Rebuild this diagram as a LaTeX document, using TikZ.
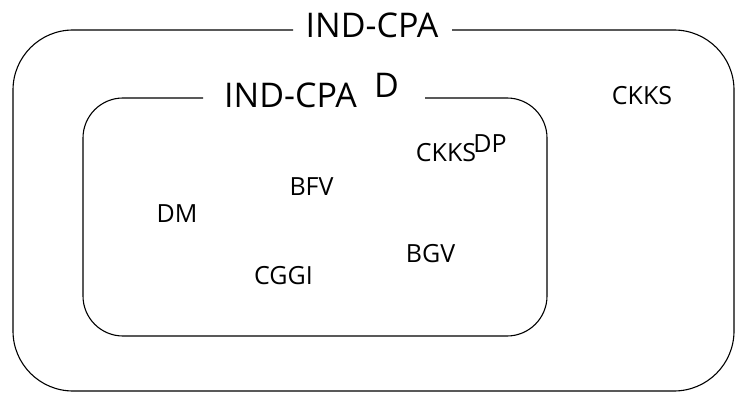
\documentclass[tikz,border=0pt]{standalone}
\usepackage{fontspec}
\setmainfont{Open Sans}
\tikzset{
    setbox/.style={line width=1.1pt, rounded corners=#1},
    scheme/.style={font=\fontsize{25}{30}\selectfont, inner sep=0pt},
    notion/.style={font=\fontsize{34}{40}\selectfont, inner sep=0pt},
}

\begin{document}
\begin{tikzpicture}[x=1pt,y=-1pt]
\useasboundingbox (0,0) rectangle (747,406);
\draw[setbox=60] (293,30) -- (13,30) -- (13,391) -- (734,391) -- (734,30) -- (452,30);
\draw[setbox=40] (203,98) -- (83,98) -- (83,336) -- (547,336) -- (547,98) -- (425,98);
\node[notion] (outer) at (372,25.5) {IND-CPA};
\node[notion] (inner) at (290.5,95) {IND-CPA};
\node[notion] (innerd) at (386.5,85.3) {D};
\node[scheme] (ckks) at (642,96) {CKKS};
\node[scheme] (ckksdp) at (446,153) {CKKS};
\node[scheme] (dp) at (490,143.5) {DP};
\node[scheme] (bfv) at (311.5,187) {BFV};
\node[scheme] (dm) at (177,214) {DM};
\node[scheme] (bgv) at (430.5,253.5) {BGV};
\node[scheme] (cggi) at (283.5,276) {CGGI};
\end{tikzpicture}
\end{document}
